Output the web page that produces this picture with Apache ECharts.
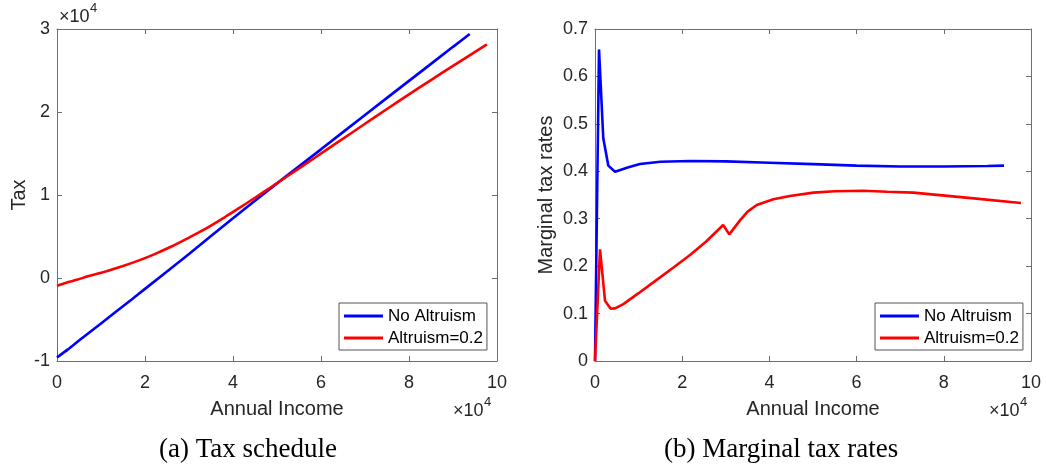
<!DOCTYPE html>
<html>
<head>
<meta charset="utf-8">
<script src="https://cdn.jsdelivr.net/npm/echarts@6/dist/echarts.min.js"></script>
<style>html,body{margin:0;padding:0;background:#fff}#c{width:1046px;height:468px}</style>
</head>
<body>
<div id="c"></div>
<script>
// ---- Data (income in $, tax in $) ----
const seriesNames = ['No Altruism', 'Altruism=0.2'];
const xTicks = [0, 2, 4, 6, 8, 10];

const taxIncomeNoAlt = [0, 2500, 5000, 10000, 16900, 20000, 30000, 40000, 50000, 60000, 70000, 80000, 90000, 93800];
const taxNoAlt       = [-9570, -8600, -7540, -5470, -2610, -1310, 2900, 7200, 11400, 15500, 19650, 23750, 27850, 29400];

const taxIncomeAlt = [0, 2100, 4500, 7000, 10500, 14650, 18500, 22200, 26000, 29800, 33500, 38200, 41000, 45000, 48500, 52600, 58600, 64000, 70000, 75000, 80000, 85000, 90000, 97700];
const taxAlt       = [-930, -560, -220, 200, 700, 1380, 2090, 2880, 3790, 4810, 5850, 7350, 8290, 9670, 10900, 12350, 14490, 16430, 18580, 20360, 22120, 23850, 25560, 28150];

const mtrIncomeNoAlt = [0, 920, 1900, 3050, 4600, 7500, 10300, 15000, 21800, 30000, 40000, 50000, 60000, 70000, 75000, 80000, 90000, 93800];
const mtrNoAlt       = [0, 0.657, 0.4695, 0.412, 0.399, 0.408, 0.4153, 0.420, 0.4217, 0.421, 0.418, 0.415, 0.412, 0.410, 0.410, 0.410, 0.411, 0.412];

const mtrIncomeAlt = [0, 1150, 2300, 3600, 4600, 6500, 10000, 14150, 18000, 21800, 25500, 29400, 30800, 33300, 35000, 37100, 40900, 44700, 50100, 55000, 61500, 67000, 73000, 84500, 97700];
const mtrAlt       = [0, 0.2355, 0.127, 0.110, 0.111, 0.120, 0.143, 0.171, 0.197, 0.2235, 0.252, 0.2867, 0.267, 0.297, 0.315, 0.329, 0.341, 0.348, 0.355, 0.358, 0.359, 0.357, 0.355, 0.345, 0.333];

const zip = (xs, ys) => xs.map((x, i) => [x, ys[i]]);

const AX = '#6e6e6e';
const TXT = '#262626';
const FONT = 'Liberation Sans';
const LW = 2.6;

function xAx(grid, pos, main) {
  return {
    type: 'value', gridIndex: grid, position: pos, min: 0, max: 100000, interval: 20000,
    axisLine: { show: true, onZero: false, lineStyle: { color: AX, width: 1 } },
    axisTick: { show: true, inside: true, length: 5, lineStyle: { color: AX } },
    axisLabel: { show: main, fontSize: 18, color: TXT, fontFamily: FONT, margin: 13,
                 formatter: v => String(v / 10000) },
    splitLine: { show: false },
    name: main ? 'Annual Income' : '', nameLocation: 'middle', nameGap: 38,
    nameTextStyle: { fontSize: 20, color: TXT, fontFamily: FONT }
  };
}
function yAx(grid, pos, main, min, max, interval, fmt, name, gap) {
  return {
    type: 'value', gridIndex: grid, position: pos, min: min, max: max, interval: interval,
    axisLine: { show: true, onZero: false, lineStyle: { color: AX, width: 1 } },
    axisTick: { show: true, inside: true, length: 5, lineStyle: { color: AX } },
    axisLabel: { show: main, fontSize: 18, color: TXT, fontFamily: FONT, margin: 7, formatter: fmt },
    splitLine: { show: false },
    name: main ? name : '', nameLocation: 'middle', nameGap: gap, nameRotate: 90,
    nameTextStyle: { fontSize: 20, color: TXT, fontFamily: FONT }
  };
}

function legendAt(left) {
  return {
    left: left, top: 303, orient: 'vertical', data: seriesNames,
    icon: 'rect', itemWidth: 39, itemHeight: 3, itemGap: 2,
    padding: [3, 4, 2, 5], backgroundColor: '#fff', borderColor: '#555', borderWidth: 1,
    textStyle: { fontSize: 17, color: '#000', fontFamily: FONT, lineHeight: 20 }
  };
}

function exp10(x, y) {
  return [
    { type: 'text', left: x, top: y, style: { text: '×10', font: '18px "Liberation Sans"', fill: TXT } },
    { type: 'text', left: x + 31, top: y - 6, style: { text: '4', font: '13px "Liberation Sans"', fill: TXT } }
  ];
}

const chart = echarts.init(document.getElementById('c'), null, { renderer: 'canvas' });
chart.setOption({
  animation: false,
  textStyle: { fontFamily: FONT },
  grid: [
    { left: 57, top: 29, width: 440, height: 332 },
    { left: 595, top: 29, width: 436, height: 332 }
  ],
  xAxis: [ xAx(0, 'bottom', true), xAx(0, 'top', false), xAx(1, 'bottom', true), xAx(1, 'top', false) ],
  yAxis: [
    yAx(0, 'left', true, -10000, 30000, 10000, v => String(v / 10000), 'Tax', 28),
    yAx(0, 'right', false, -10000, 30000, 10000, v => String(v), '', 0),
    yAx(1, 'left', true, 0, 0.7, 0.1, v => (v === 0 ? '0' : v.toFixed(1)), 'Marginal tax rates', 39),
    yAx(1, 'right', false, 0, 0.7, 0.1, v => String(v), '', 0)
  ],
  legend: [ legendAt(339), legendAt(875) ],
  series: [
    { name: seriesNames[0], type: 'line', xAxisIndex: 0, yAxisIndex: 0, data: zip(taxIncomeNoAlt, taxNoAlt),
      showSymbol: false, smooth: 0.2, lineStyle: { color: '#0000ff', width: LW }, itemStyle: { color: '#0000ff' } },
    { name: seriesNames[1], type: 'line', xAxisIndex: 0, yAxisIndex: 0, data: zip(taxIncomeAlt, taxAlt),
      showSymbol: false, smooth: 0.3, lineStyle: { color: '#ff0000', width: LW }, itemStyle: { color: '#ff0000' } },
    { name: seriesNames[0], type: 'line', xAxisIndex: 2, yAxisIndex: 2, data: zip(mtrIncomeNoAlt, mtrNoAlt),
      showSymbol: false, smooth: false, lineStyle: { color: '#0000ff', width: LW }, itemStyle: { color: '#0000ff' } },
    { name: seriesNames[1], type: 'line', xAxisIndex: 2, yAxisIndex: 2, data: zip(mtrIncomeAlt, mtrAlt),
      showSymbol: false, smooth: false, lineStyle: { color: '#ff0000', width: LW }, itemStyle: { color: '#ff0000' } }
  ],
  graphic: [].concat(
    exp10(59, 8),
    exp10(453, 402),
    exp10(989, 402),
    [
      { type: 'text', left: 159, top: 436, style: { text: '(a) Tax schedule', font: '27px "Liberation Serif"', fill: '#000' } },
      { type: 'text', left: 664, top: 436, style: { text: '(b) Marginal tax rates', font: '27px "Liberation Serif"', fill: '#000' } }
    ]
  )
});
</script>
</body>
</html>
